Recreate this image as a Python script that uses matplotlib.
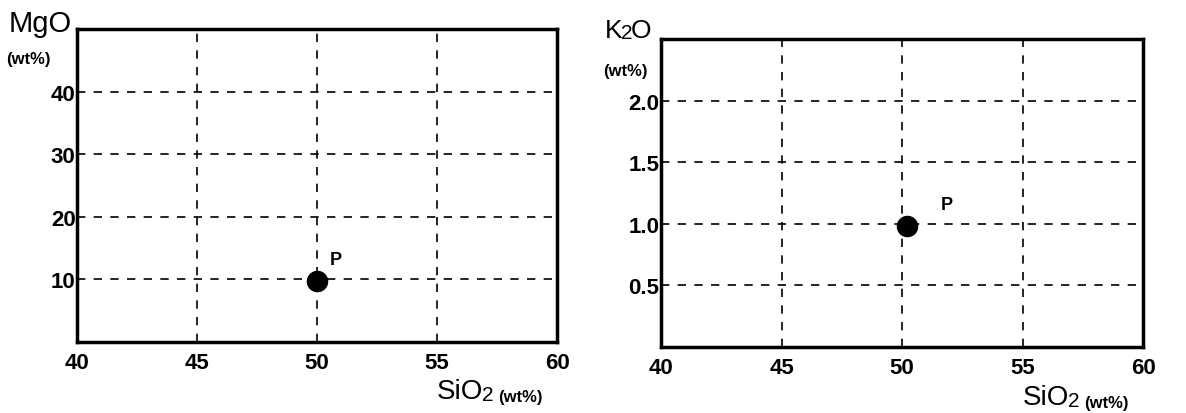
import matplotlib
matplotlib.use('Agg')
import matplotlib.pyplot as plt
from matplotlib.text import Annotation

plt.rcParams['font.family'] = ['Liberation Sans', 'DejaVu Sans']

# data
sio2_ticks = [40, 45, 50, 55, 60]
mgo_ticks = [10, 20, 30, 40]
k2o_ticks = [0.5, 1.0, 1.5, 2.0]
k2o_ticklabels = ['0.5', '1.0', '1.5', '2.0']

p_sio2_mgo = 50.0
p_mgo = 9.8
p_sio2_k2o = 50.2
p_k2o = 0.98

W, H = 1186, 414
fig = plt.figure(figsize=(W / 100, H / 100), dpi=100)
ax1 = fig.add_axes([77 / W, 1 - 343 / H, 480 / W, 313 / H])
ax2 = fig.add_axes([661 / W, 1 - 348 / H, 482 / W, 308 / H])


def chain(x, y, parts):
    # pieces of text laid one after the other; x,y = left/baseline in pixels
    first = parts[0]
    last = fig.text(x / W, 1 - y / H, first[0], fontsize=first[1],
                    fontweight='bold' if first[2] else 'normal',
                    ha='left', va='baseline')
    for s, size, bold, gap in parts[1:]:
        last = fig.add_artist(Annotation(
            s, xy=(1, 0), xycoords=last, xytext=(gap, 0),
            textcoords='offset points', fontsize=size,
            fontweight='bold' if bold else 'normal',
            ha='left', va='bottom', annotation_clip=False))


def style(ax, yticks, yticklabels, ylim):
    ax.set_xlim(40, 60)
    ax.set_ylim(*ylim)
    ax.set_xticks(sio2_ticks)
    ax.set_xticklabels([str(t) for t in sio2_ticks], fontsize=16, fontweight='bold')
    ax.set_yticks(yticks)
    ax.set_yticklabels(yticklabels, fontsize=16, fontweight='bold')
    ax.tick_params(length=0, pad=1)
    ax.tick_params(axis='x', pad=7)
    for s in ax.spines.values():
        s.set_linewidth(2.5)
        s.set_color('black')
    ax.grid(True, color='black', linestyle=(0, (5, 5)), linewidth=1.2)
    ax.set_axisbelow(True)


style(ax1, mgo_ticks, [str(t) for t in mgo_ticks], (0, 50))
style(ax2, k2o_ticks, k2o_ticklabels, (0, 2.5))

ax1.scatter([p_sio2_mgo], [p_mgo], s=210, color='black', zorder=5)
ax1.text(50.55, 12.5, 'P', fontsize=13, fontweight='bold')
ax2.scatter([p_sio2_k2o], [p_k2o], s=210, color='black', zorder=5)
ax2.text(51.6, 1.12, 'P', fontsize=13, fontweight='bold')

# axis titles
chain(9, 32, [('MgO', 21, False, 0)])
chain(6, 64, [('(wt%)', 12, True, 0)])
chain(605, 38, [('K', 19, False, 0), ('2', 15, False, -1), ('O', 19, False, -1)])
chain(603, 76, [('(wt%)', 12, True, 0)])

chain(437, 399, [('SiO', 20, False, 0), ('2', 15, False, -1), ('(wt%)', 12, True, 3)])
chain(1023, 405, [('SiO', 20, False, 0), ('2', 15, False, -1), ('(wt%)', 12, True, 3)])

fig.savefig('out.png', dpi=100)
